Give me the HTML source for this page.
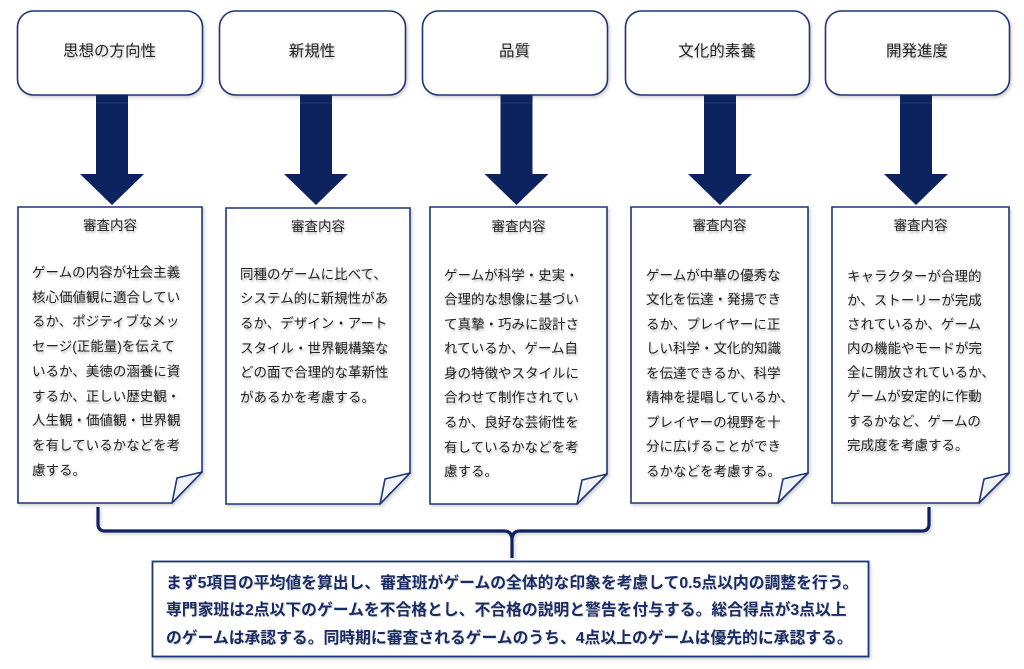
<!DOCTYPE html>
<html><head><meta charset="utf-8">
<style>
html,body{margin:0;padding:0;background:#fff;}
body{width:1024px;height:669px;position:relative;overflow:hidden;font-family:"Liberation Sans","Noto Sans CJK JP",sans-serif;}
svg{position:absolute;left:0;top:0;}
.t{position:absolute;color:#222;text-shadow:1px 2px 2px rgba(0,0,0,0.28);white-space:nowrap;}
.h{font-size:15.5px;text-align:center;line-height:20px;}
.hd{font-size:13.5px;text-align:center;line-height:20px;}
.b{font-size:13.5px;line-height:24.7px;}
.f{position:absolute;left:166px;top:569.5px;font-size:15.8px;font-weight:bold;color:#182b63;line-height:27.5px;white-space:nowrap;text-shadow:1px 1px 1px rgba(0,0,0,0.15);}
</style></head><body>
<svg width="1024" height="669" viewBox="0 0 1024 669">
<defs>
<filter id="sh" x="-10%" y="-10%" width="130%" height="130%"><feDropShadow dx="1.5" dy="2" stdDeviation="1.5" flood-color="#000" flood-opacity="0.18"/></filter>
</defs>
<g fill="#fff" stroke="#1d3676" stroke-width="1.6" filter="url(#sh)">
<rect x="17.5" y="11" width="185" height="84" rx="16"/>
<rect x="219.5" y="11" width="186" height="84" rx="16"/>
<rect x="422.5" y="11" width="185" height="84" rx="16"/>
<rect x="625.5" y="11" width="184" height="84" rx="16"/>
<rect x="825.5" y="11" width="184" height="84" rx="16"/>
</g>
<g fill="#0c2360">
<polygon points="96,95 128,95 128,174 144,174 112,205 80,174 96,174"/>
<polygon points="300,95 332,95 332,174 348,174 316,205 284,174 300,174"/>
<polygon points="500.5,95 532.5,95 532.5,174 548.5,174 516.5,205 484.5,174 500.5,174"/>
<polygon points="704,95 736,95 736,174 752,174 720,205 688,174 704,174"/>
<polygon points="900,95 932,95 932,174 948,174 916,205 884,174 900,174"/>
</g>
<g stroke="#3a5190" stroke-width="0.8" opacity="0.6">
<line x1="96" y1="103" x2="128" y2="103"/><line x1="300" y1="103" x2="332" y2="103"/><line x1="500.5" y1="103" x2="532.5" y2="103"/><line x1="704" y1="103" x2="736" y2="103"/><line x1="900" y1="103" x2="932" y2="103"/>
</g>
<g fill="#fff" stroke="#1d3676" stroke-width="1.6" filter="url(#sh)">
<path d="M18,207 H202 V472 L172,503 H18 Z"/>
<path d="M226,208 H410 V473 L380,504 H226 Z"/>
<path d="M430,207 H607 V474 L577,504 H430 Z"/>
<path d="M631,207 H808 V473 L778,503 H631 Z"/>
<path d="M832,207 H1009 V473 L979,503 H832 Z"/>
</g>
<g fill="#f2f3f6" stroke="#1d3676" stroke-width="1.6" stroke-linejoin="round">
<path d="M202,472 L177,478 L172,503 Z"/>
<path d="M410,473 L385,479 L380,504 Z"/>
<path d="M607,474 L582,480 L577,504 Z"/>
<path d="M808,473 L783,479 L778,503 Z"/>
<path d="M1009,473 L984,479 L979,503 Z"/>
</g>
<path d="M98,507 V524 Q98,531 105,531 H504 Q512,531 512,540 V558 M512,540 Q512,531 520,531 H922 Q929,531 929,524 V507" fill="none" stroke="#0c2360" stroke-width="3.2" filter="url(#sh)"/>
<rect x="152.5" y="561.5" width="716" height="95" fill="#fff" stroke="#1d3676" stroke-width="1.8" filter="url(#sh)"/>
</svg>

<div class="t h" style="left:17px;width:185px;top:42px;">思想の方向性</div>
<div class="t h" style="left:219px;width:186px;top:42px;">新規性</div>
<div class="t h" style="left:422px;width:185px;top:42px;">品質</div>
<div class="t h" style="left:625px;width:184px;top:42px;">文化的素養</div>
<div class="t h" style="left:825px;width:184px;top:42px;">開発進度</div>

<div class="t hd" style="left:18px;width:184px;top:216px;">審査内容</div>
<div class="t hd" style="left:226px;width:184px;top:217px;">審査内容</div>
<div class="t hd" style="left:430px;width:177px;top:217px;">審査内容</div>
<div class="t hd" style="left:631px;width:177px;top:216px;">審査内容</div>
<div class="t hd" style="left:832px;width:177px;top:216px;">審査内容</div>

<div class="t b" style="left:32px;top:261px;">ゲームの内容が社会主義<br>核心価値観に適合してい<br>るか、ポジティブなメッ<br>セージ(正能量)を伝えて<br>いるか、美徳の涵養に資<br>するか、正しい歴史観・<br>人生観・価値観・世界観<br>を有しているかなどを考<br>慮する。</div>
<div class="t b" style="left:240px;top:262.5px;">同種のゲームに比べて、<br>システム的に新規性があ<br>るか、デザイン・アート<br>スタイル・世界観構築な<br>どの面で合理的な革新性<br>があるかを考慮する。</div>
<div class="t b" style="left:444px;top:263.5px;line-height:24.6px;">ゲームが科学・史実・<br>合理的な想像に基づい<br>て真摯・巧みに設計さ<br>れているか、ゲーム自<br>身の特徴やスタイルに<br>合わせて制作されてい<br>るか、良好な芸術性を<br>有しているかなどを考<br>慮する。</div>
<div class="t b" style="left:646px;top:263.5px;line-height:24.5px;">ゲームが中華の優秀な<br>文化を伝達・発揚でき<br>るか、プレイヤーに正<br>しい科学・文化的知識<br>を伝達できるか、科学<br>精神を提唱しているか、<br>プレイヤーの視野を十<br>分に広げることができ<br>るかなどを考慮する。</div>
<div class="t b" style="left:847px;top:265px;line-height:24.1px;">キャラクターが合理的<br>か、ストーリーが完成<br>されているか、ゲーム<br>内の機能やモードが完<br>全に開放されているか、<br>ゲームが安定的に作動<br>するかなど、ゲームの<br>完成度を考慮する。</div>

<div class="f">まず5項目の平均値を算出し、審査班がゲームの全体的な印象を考慮して0.5点以内の調整を行う。<br>専門家班は2点以下のゲームを不合格とし、不合格の説明と警告を付与する。総合得点が3点以上<br>のゲームは承認する。同時期に審査されるゲームのうち、4点以上のゲームは優先的に承認する。</div>
</body></html>
